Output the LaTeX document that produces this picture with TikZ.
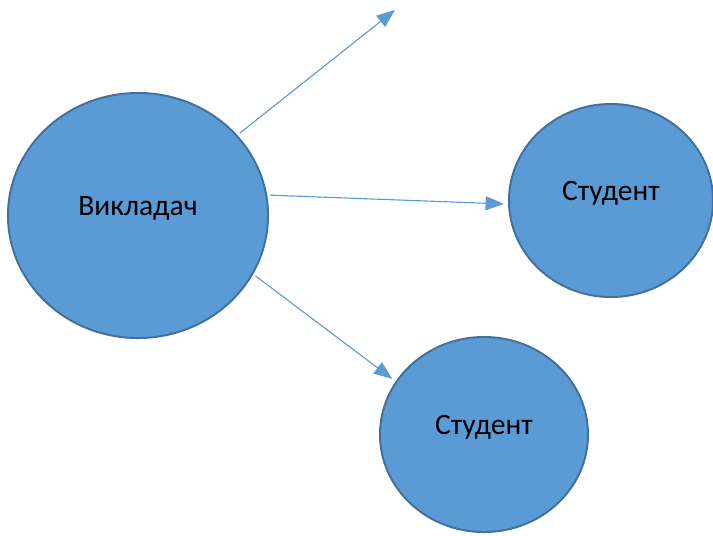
\documentclass[tikz,border=0pt]{standalone}
\usepackage{fontspec}
\setmainfont{Carlito}
\usepackage{tikz}
\usetikzlibrary{arrows.meta, shapes.geometric}
\definecolor{ovFill}{HTML}{5B9BD5}
\definecolor{ovLine}{HTML}{41719C}
\definecolor{arLine}{HTML}{5B9BD5}

\begin{document}
\begin{tikzpicture}[x=0.025cm, y=-0.025cm, ov/.style={ellipse, draw=ovLine, fill=ovFill, line width=1.4pt, inner sep=0pt, font=\fontsize{21}{25}\selectfont, text height=1.5ex, text depth=1.5ex},arr/.style={-{Triangle[length=13pt, width=10pt]}, line width=0.8pt, color=arLine, shorten <=2pt, shorten >=3pt}]
\useasboundingbox (0,0) rectangle (713,535);
\node[ov, minimum width=6.5cm, minimum height=6.125cm] (vykl) at (138,215.5) {Викладач};
\node[ov, minimum width=5.1cm, minimum height=4.825cm] (stud1) at (611,200.5) {Студент};
\node[ov, minimum width=5.2cm, minimum height=4.875cm] (stud2) at (484,434.5) {Студент};
\coordinate (free) at (395,10);
\draw[arr, shorten >=0pt] (vykl.39) -- (free); \draw[arr] (vykl.9.5) -- (stud1.182); \draw[arr] (vykl.-27.5) -- (stud2.149);
\end{tikzpicture}
\end{document}
